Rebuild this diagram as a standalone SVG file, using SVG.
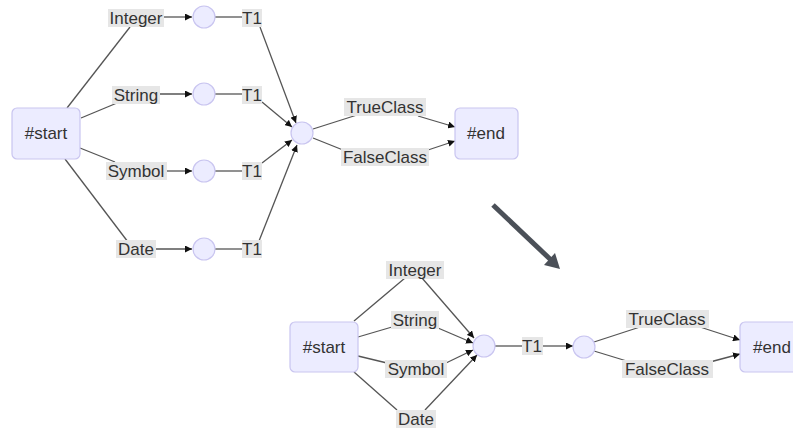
<svg xmlns="http://www.w3.org/2000/svg" width="793" height="432" viewBox="0 0 793 432">
<defs>
<marker id="ah" viewBox="0 0 10 10" refX="10" refY="5" markerWidth="7" markerHeight="7" markerUnits="userSpaceOnUse" orient="auto">
<path d="M0,0 L10,5 L0,10 z" fill="#111"/>
</marker>
<style>
.box{fill:#ececff;stroke:#c9c5f0;stroke-width:1.2}
.dot{fill:#ececff;stroke:#c9c5f0;stroke-width:1.2}
.e{fill:none;stroke:#555;stroke-width:1.3}
.a{marker-end:url(#ah)}
.lb{fill:#e6e6e6}
text{font-family:"Liberation Sans",Arial,sans-serif;font-size:17px;fill:#333;text-anchor:middle}
</style>
</defs>
<rect width="793" height="432" fill="#fff"/>

<g id="connectors">
<!-- top graph -->
<path class="e" d="M67,108 L130,27"/>
<path class="e a" d="M163,17 L192,17"/>
<path class="e" d="M215,17 L243,17"/>
<path class="e a" d="M260,27 L296,123"/>
<path class="e" d="M81,118 L117,103"/>
<path class="e a" d="M159,94 L192,94"/>
<path class="e" d="M215,94 L243,94"/>
<path class="e a" d="M262,102 L292,127"/>
<path class="e" d="M80,148 L115,162"/>
<path class="e a" d="M166,171 L192,171"/>
<path class="e" d="M215,171 L243,171"/>
<path class="e a" d="M262,163 L292,140"/>
<path class="e" d="M65,159 L128,242"/>
<path class="e a" d="M155,249 L192,249"/>
<path class="e" d="M215,249 L243,249"/>
<path class="e a" d="M259,241 L297,145"/>
<path class="e" d="M313,129 L357,115"/>
<path class="e a" d="M418,116 L455,127"/>
<path class="e" d="M313,138 L343,150"/>
<path class="e a" d="M425,151 L455,141"/>
<!-- bottom graph -->
<path class="e" d="M354,321 L405,278"/>
<path class="e a" d="M422,278 L474,338"/>
<path class="e" d="M358,337 L392,327"/>
<path class="e a" d="M438,328 L473,343"/>
<path class="e" d="M358,356 L387,363"/>
<path class="e a" d="M446,363 L473,350"/>
<path class="e" d="M354,372 L397,410"/>
<path class="e a" d="M425,410 L477,355"/>
<path class="e" d="M495,346 L522,346"/>
<path class="e a" d="M543,346 L573,346"/>
<path class="e" d="M594,342 L640,327"/>
<path class="e a" d="M700,327 L740,340"/>
<path class="e" d="M594,351 L630,362"/>
<path class="e a" d="M710,362 L740,354"/>
<!-- transformation arrow -->
<path d="M493,205 L551,260" fill="none" stroke="#4b5058" stroke-width="5"/>
<polygon points="560,269 544,265 555,253" fill="#4b5058"/>
</g>

<!-- top graph nodes -->
<g id="start1"><rect class="box" x="12" y="108" width="68" height="51" rx="5"/><text x="46" y="139">#start</text></g>
<g id="lbl-int1"><rect class="lb" x="108" y="9" width="56" height="18"/><text x="136" y="24">Integer</text></g>
<g id="c-int1"><circle class="dot" cx="204" cy="17" r="11"/></g>
<g id="t1-a"><rect class="lb" x="242" y="9" width="20" height="18"/><text x="252" y="24">T1</text></g>
<g id="lbl-str1"><rect class="lb" x="112" y="86" width="48" height="18"/><text x="136" y="101">String</text></g>
<g id="c-str1"><circle class="dot" cx="204" cy="94" r="11"/></g>
<g id="t1-b"><rect class="lb" x="242" y="86" width="20" height="18"/><text x="252" y="101">T1</text></g>
<g id="lbl-sym1"><rect class="lb" x="106" y="162" width="61" height="18"/><text x="136" y="177">Symbol</text></g>
<g id="c-sym1"><circle class="dot" cx="204" cy="171" r="11"/></g>
<g id="t1-c"><rect class="lb" x="242" y="162" width="20" height="18"/><text x="252" y="177">T1</text></g>
<g id="lbl-date1"><rect class="lb" x="116" y="240" width="40" height="18"/><text x="136" y="255">Date</text></g>
<g id="c-date1"><circle class="dot" cx="204" cy="249" r="11"/></g>
<g id="t1-d"><rect class="lb" x="242" y="240" width="20" height="18"/><text x="252" y="255">T1</text></g>
<g id="c-mid1"><circle class="dot" cx="302" cy="133" r="11"/></g>
<g id="lbl-true1"><rect class="lb" x="344" y="98" width="82" height="18"/><text x="385" y="113">TrueClass</text></g>
<g id="lbl-false1"><rect class="lb" x="341" y="148" width="88" height="18"/><text x="385" y="163">FalseClass</text></g>
<g id="end1"><rect class="box" x="455" y="108" width="63" height="51" rx="5"/><text x="486" y="139">#end</text></g>

<!-- bottom graph nodes -->
<g id="start2"><rect class="box" x="290" y="322" width="68" height="50" rx="5"/><text x="324" y="353">#start</text></g>
<g id="lbl-int2"><rect class="lb" x="386" y="261" width="58" height="18"/><text x="415" y="276">Integer</text></g>
<g id="lbl-str2"><rect class="lb" x="391" y="311" width="48" height="18"/><text x="415" y="326">String</text></g>
<g id="lbl-sym2"><rect class="lb" x="385" y="360" width="62" height="18"/><text x="416" y="375">Symbol</text></g>
<g id="lbl-date2"><rect class="lb" x="396" y="410" width="40" height="18"/><text x="416" y="425">Date</text></g>
<g id="c-mid2"><circle class="dot" cx="484" cy="346" r="11"/></g>
<g id="t1-e"><rect class="lb" x="522" y="337" width="21" height="18"/><text x="532" y="352">T1</text></g>
<g id="c-mid3"><circle class="dot" cx="584" cy="347" r="11"/></g>
<g id="lbl-true2"><rect class="lb" x="626" y="310" width="83" height="18"/><text x="667" y="325">TrueClass</text></g>
<g id="lbl-false2"><rect class="lb" x="622" y="360" width="91" height="18"/><text x="667" y="375">FalseClass</text></g>
<g id="end2"><rect class="box" x="740" y="322" width="66" height="50" rx="5"/><text x="772" y="353">#end</text></g>
</svg>
